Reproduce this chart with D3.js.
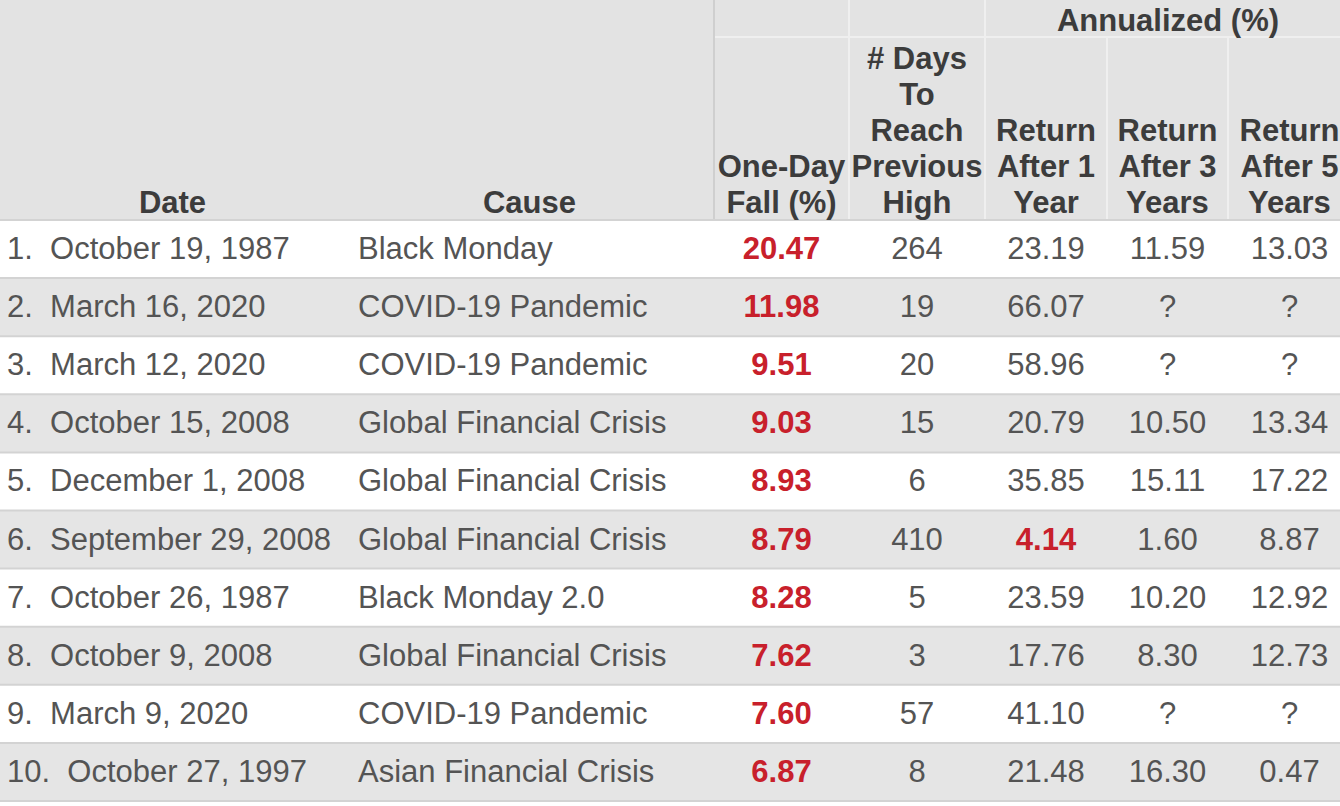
<!DOCTYPE html>
<html>
<head>
<meta charset="utf-8">
<script src="https://cdn.jsdelivr.net/npm/d3@7"></script>
<style>
  html, body { margin: 0; padding: 0; background: #ffffff; }
  svg { display: block; }
  text { font-family: "Liberation Sans", Arial, sans-serif; }
</style>
</head>
<body>
<svg id="chart" width="1340" height="806"></svg>
<script>
// ---- data ----
const ranks = ["1.", "2.", "3.", "4.", "5.", "6.", "7.", "8.", "9.", "10."];
const dates = ["October 19, 1987", "March 16, 2020", "March 12, 2020", "October 15, 2008",
  "December 1, 2008", "September 29, 2008", "October 26, 1987", "October 9, 2008",
  "March 9, 2020", "October 27, 1997"];
const causes = ["Black Monday", "COVID-19 Pandemic", "COVID-19 Pandemic", "Global Financial Crisis",
  "Global Financial Crisis", "Global Financial Crisis", "Black Monday 2.0", "Global Financial Crisis",
  "COVID-19 Pandemic", "Asian Financial Crisis"];
const oneDayFall = ["20.47", "11.98", "9.51", "9.03", "8.93", "8.79", "8.28", "7.62", "7.60", "6.87"];
const daysToHigh = ["264", "19", "20", "15", "6", "410", "5", "3", "57", "8"];
const return1y = ["23.19", "66.07", "58.96", "20.79", "35.85", "4.14", "23.59", "17.76", "41.10", "21.48"];
const return3y = ["11.59", "?", "?", "10.50", "15.11", "1.60", "10.20", "8.30", "?", "16.30"];
const return5y = ["13.03", "?", "?", "13.34", "17.22", "8.87", "12.92", "12.73", "?", "0.47"];
const headerLabels = {
  date: ["Date"],
  cause: ["Cause"],
  fall: ["One-Day", "Fall (%)"],
  days: ["# Days", "To", "Reach", "Previous", "High"],
  r1: ["Return", "After 1", "Year"],
  r3: ["Return", "After 3", "Years"],
  r5: ["Return", "After 5", "Years"]
};
const groupLabel = "Annualized (%)";
const highlightR1 = ["4.14"]; // red-highlighted 1-year return

// ---- layout ----
const W = 1340, H = 806;
const headerBottom = 220, tableBottom = 801, groupLineY = 37;
const colKeys = ["date", "cause", "fall", "days", "r1", "r3", "r5"];
const colEdges = [0, 345, 714, 849, 985, 1107, 1228, 1351];
const xLeft = d3.scaleOrdinal().domain(colKeys).range(colEdges.slice(0, 7));
const xRight = d3.scaleOrdinal().domain(colKeys).range(colEdges.slice(1));
const xMid = k => (xLeft(k) + xRight(k)) / 2;
const y = d3.scaleBand().domain(d3.range(ranks.length)).range([headerBottom, tableBottom]);

const svg = d3.select("#chart");
const FS = 31;
const bodyColor = "#545454", headColor = "#3c3c3c", red = "#c8202b";

// header background
svg.append("rect").attr("x", 0).attr("y", 0).attr("width", W).attr("height", headerBottom)
  .attr("fill", "#e3e3e3");

// rows
const rows = svg.append("g").selectAll("g").data(d3.range(ranks.length)).join("g")
  .attr("transform", i => `translate(0,${y(i)})`);
rows.append("rect").attr("x", 0).attr("y", 0).attr("width", W).attr("height", y.bandwidth())
  .attr("fill", i => i % 2 === 1 ? "#e5e5e5" : "#ffffff");

// header grid lines (light)
const hl = svg.append("g");
hl.append("line").attr("x1", xLeft("fall")).attr("x2", W).attr("y1", groupLineY).attr("y2", groupLineY)
  .attr("stroke", "#efefef").attr("stroke-width", 2);
hl.append("line").attr("x1", xLeft("fall")).attr("x2", xLeft("fall")).attr("y1", 0).attr("y2", headerBottom)
  .attr("stroke", "#cfcfcf").attr("stroke-width", 2);
["days", "r1"].forEach(k => hl.append("line").attr("x1", xLeft(k)).attr("x2", xLeft(k))
  .attr("y1", 0).attr("y2", headerBottom).attr("stroke", "#efefef").attr("stroke-width", 2));
["r3", "r5"].forEach(k => hl.append("line").attr("x1", xLeft(k)).attr("x2", xLeft(k))
  .attr("y1", groupLineY).attr("y2", headerBottom).attr("stroke", "#efefef").attr("stroke-width", 2));

// row separators
svg.append("g").selectAll("line").data(d3.range(ranks.length + 1)).join("line")
  .attr("x1", 0).attr("x2", W)
  .attr("y1", i => i < ranks.length ? y(i) : tableBottom)
  .attr("y2", i => i < ranks.length ? y(i) : tableBottom)
  .attr("stroke", "#d3d3d3").attr("stroke-width", 2);

// header text
const headG = svg.append("g").attr("font-size", FS).attr("font-weight", "bold").attr("fill", headColor)
  .attr("text-anchor", "middle");
const lineH = 36, lastBase = 213;
colKeys.forEach(k => {
  const lines = headerLabels[k];
  const t = headG.append("text").attr("x", xMid(k));
  lines.forEach((s, j) => {
    t.append("tspan").attr("x", xMid(k)).attr("y", lastBase - (lines.length - 1 - j) * lineH).text(s);
  });
});
headG.append("text").attr("x", (xLeft("r1") + xRight("r5")) / 2).attr("y", 31).text(groupLabel);

// body text
const baseOff = 39;
const body = rows.append("g").attr("font-size", FS).attr("fill", bodyColor);
body.append("text").attr("x", 7).attr("y", baseOff).attr("xml:space", "preserve")
  .style("white-space", "pre")
  .text(i => ranks[i] + "  " + dates[i]);
body.append("text").attr("x", 358).attr("y", baseOff).text(i => causes[i]);
body.append("text").attr("x", xMid("fall")).attr("y", baseOff).attr("text-anchor", "middle")
  .attr("font-weight", "bold").attr("fill", red).text(i => oneDayFall[i]);
body.append("text").attr("x", xMid("days")).attr("y", baseOff).attr("text-anchor", "middle")
  .text(i => daysToHigh[i]);
body.append("text").attr("x", xMid("r1")).attr("y", baseOff).attr("text-anchor", "middle")
  .attr("font-weight", i => highlightR1.includes(return1y[i]) ? "bold" : "normal")
  .attr("fill", i => highlightR1.includes(return1y[i]) ? red : bodyColor)
  .text(i => return1y[i]);
body.append("text").attr("x", xMid("r3")).attr("y", baseOff).attr("text-anchor", "middle")
  .text(i => return3y[i]);
body.append("text").attr("x", xMid("r5")).attr("y", baseOff).attr("text-anchor", "middle")
  .text(i => return5y[i]);
</script>
</body>
</html>
